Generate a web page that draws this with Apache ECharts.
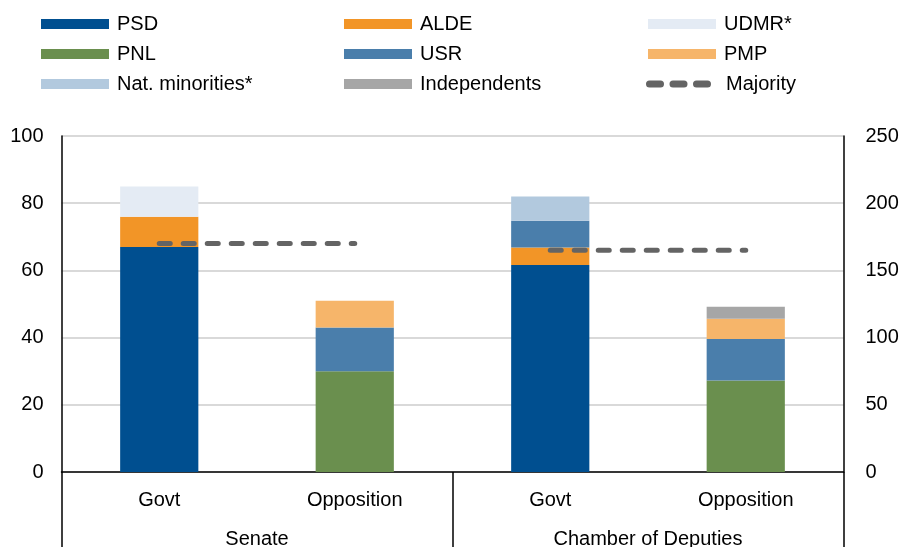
<!DOCTYPE html>
<html><head><meta charset="utf-8">
<script src="https://cdn.jsdelivr.net/npm/echarts@6/dist/echarts.min.js"></script>
<style>html,body{margin:0;padding:0;background:#fff}#c{width:904px;height:547px}</style>
</head><body><div id="c"></div>
<script>
// Categories (inner level) and outer groups
const categories = ['Govt', 'Opposition', 'Govt', 'Opposition'];
const chambers = ['Senate', 'Chamber of Deputies'];
// Seats per party: [Senate Govt, Senate Opp, Chamber Govt, Chamber Opp]
const psd    = [67, '-', 154, '-'];
const alde   = [9, '-', 13, '-'];
const udmr   = [9, '-', 20, '-'];
const natMin = ['-', '-', 18, '-'];
const pnl    = ['-', 30, '-', 68];
const usr    = ['-', 13, '-', 31];
const pmp    = ['-', 8, '-', 15];
const indep  = ['-', '-', '-', 9];
const majority = [68, 68, 165, 165];
// Axis ranges
const leftAxis = {min: 0, max: 100, interval: 20};
const rightAxis = {min: 0, max: 250, interval: 50};

const FONT = 'Liberation Sans, Arial, sans-serif';
const colors = {
  'PSD': '#004F90', 'ALDE': '#F29527', 'UDMR*': '#E4EBF4', 'PNL': '#6A8F4E',
  'USR': '#4A7EAB', 'PMP': '#F6B56A', 'Nat. minorities*': '#B2C9DE',
  'Independents': '#A6A6A6', 'Majority': '#646464'
};
const parties = [
  ['PSD', psd], ['ALDE', alde], ['UDMR*', udmr], ['Nat. minorities*', natMin],
  ['PNL', pnl], ['USR', usr], ['PMP', pmp], ['Independents', indep]
];
function pick(arr, idx) { return arr.map((v, i) => idx.includes(i) ? v : '-'); }

const series = [];
// Senate (left axis)
parties.forEach(([name, arr]) => {
  const d = pick(arr, [0, 1]);
  if (d.every(v => v === '-')) return;
  series.push({type: 'bar', name, stack: 'seats', yAxisIndex: 0, xAxisIndex: 0,
    barWidth: '40%', data: d, itemStyle: {color: colors[name]}, silent: true});
});
// Chamber (right axis)
parties.forEach(([name, arr]) => {
  const d = pick(arr, [2, 3]);
  if (d.every(v => v === '-')) return;
  const col = name === 'UDMR*' ? colors['USR'] : colors[name];
  series.push({type: 'bar', name, stack: 'seats', yAxisIndex: 1, xAxisIndex: 0,
    barWidth: '40%', data: d, itemStyle: {color: col}, silent: true});
});
const majStyle = {color: colors['Majority'], width: 5, type: [11, 13], cap: 'round'};
series.push({type: 'line', name: 'Majority', yAxisIndex: 0, data: pick(majority, [0, 1]),
  symbol: 'none', lineStyle: majStyle, itemStyle: {color: colors['Majority']}, z: 5, silent: true});
series.push({type: 'line', name: 'Majority', yAxisIndex: 1, data: pick(majority, [2, 3]),
  symbol: 'none', lineStyle: majStyle, itemStyle: {color: colors['Majority']}, z: 5, silent: true});
// helper series so the outer category axis has an extent
series.push({type: 'line', name: '_outer', xAxisIndex: 1, yAxisIndex: 0, data: ['-', '-'],
  symbol: 'none', silent: true});

// dashed legend icon (three rounded dashes)
function dash(x0) {
  const w = 18, h = 7, r = 3.5;
  return `M${x0 + r} 0L${x0 + w - r} 0A${r} ${r} 0 0 1 ${x0 + w - r} ${h}L${x0 + r} ${h}A${r} ${r} 0 0 1 ${x0 + r} 0Z`;
}
const dashIcon = 'path://' + dash(0) + dash(23.5) + dash(47);

const legendNames = ['PSD', 'ALDE', 'UDMR*', 'PNL', 'USR', 'PMP', 'Nat. minorities*', 'Independents', 'Majority'];
const colX = [41, 344, 648];
const rowY = [24, 54, 84];
const legends = legendNames.map((n, i) => {
  const isMaj = n === 'Majority';
  return {
    data: [isMaj ? {name: n, icon: dashIcon, itemStyle: {color: colors['Majority']}} : {name: n, icon: 'rect'}],
    left: isMaj ? 646 : colX[i % 3], top: rowY[Math.floor(i / 3)] - 10,
    orient: 'horizontal', padding: 0, itemWidth: isMaj ? 65 : 68, itemHeight: isMaj ? 7 : 10,
    selectedMode: false,
    textStyle: {fontFamily: FONT, fontSize: 20, color: '#000', lineHeight: 20,
      padding: [0, 0, 0, isMaj ? 10 : 3]}
  };
});

const axisLabel = {fontFamily: FONT, fontSize: 20, color: '#000'};
const option = {
  animation: false,
  backgroundColor: '#fff',
  legend: legends,
  grid: {left: 61.5, right: 60.5, top: 136, bottom: 75, containLabel: false, outerBoundsMode: 'none'},
  xAxis: [
    {type: 'category', data: categories, position: 'bottom',
      axisLine: {show: true, onZero: false, lineStyle: {color: '#000', width: 1.5}},
      axisTick: {show: false}, splitLine: {show: false},
      axisLabel: Object.assign({margin: 18, interval: 0}, axisLabel)},
    {type: 'category', data: chambers, position: 'bottom',
      axisLine: {show: false, onZero: false},
      axisTick: {show: true, interval: 0, length: 80, lineStyle: {color: '#000', width: 1.5}},
      splitLine: {show: false},
      axisLabel: Object.assign({margin: 57, interval: 0}, axisLabel)}
  ],
  yAxis: [
    {type: 'value', position: 'left', min: leftAxis.min, max: leftAxis.max, interval: leftAxis.interval,
      axisLine: {show: true, lineStyle: {color: '#000', width: 1.5}}, axisTick: {show: false},
      splitLine: {show: true, lineStyle: {color: '#D9D9D9', width: 2}},
      axisLabel: Object.assign({margin: 18}, axisLabel)},
    {type: 'value', position: 'right', min: rightAxis.min, max: rightAxis.max, interval: rightAxis.interval,
      axisLine: {show: true, lineStyle: {color: '#000', width: 1.5}}, axisTick: {show: false},
      splitLine: {show: false},
      axisLabel: Object.assign({margin: 22}, axisLabel)}
  ],
  series
};
const chart = echarts.init(document.getElementById('c'), null, {renderer: 'canvas'});
chart.setOption(option);
</script></body></html>
